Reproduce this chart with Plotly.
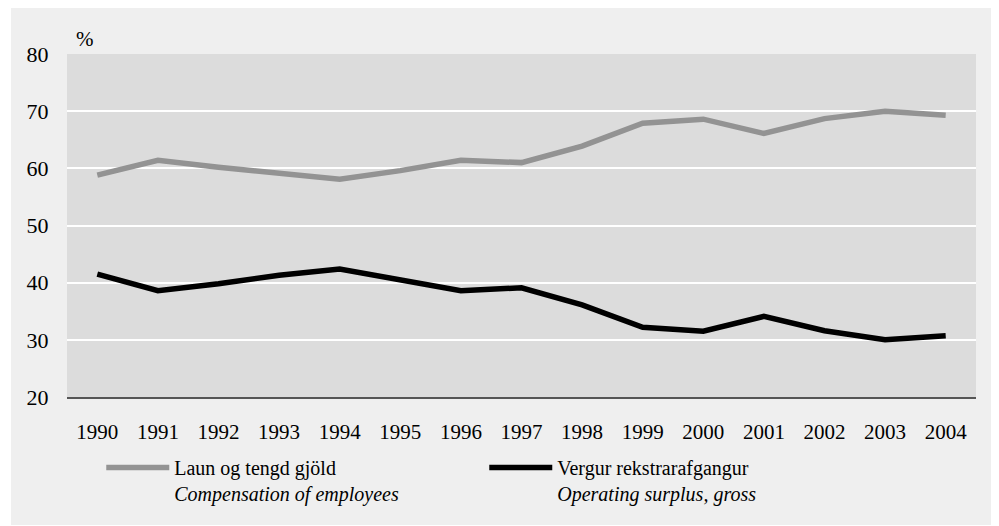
import plotly.graph_objects as go

# values
years = [str(y) for y in range(1990, 2005)]
laun = [58.8, 61.4, 60.2, 59.2, 58.1, 59.6, 61.4, 61.0, 63.9, 67.9, 68.6, 66.1, 68.7, 70.0, 69.3]
vergur = [41.5, 38.6, 39.8, 41.3, 42.4, 40.4, 38.6, 39.1, 36.1, 32.2, 31.5, 34.1, 31.6, 30.0, 30.7]
y_ticks = [20, 30, 40, 50, 60, 70, 80]

serif = "Liberation Serif, Times New Roman, serif"

fig = go.Figure()
fig.add_trace(go.Scatter(
    x = years, y = laun, mode = "lines",
    line = dict(color = "#939393", width = 5.5),
    name = "Laun og tengd gjöld<br><i>Compensation of employees</i>"))
fig.add_trace(go.Scatter(
    x = years, y = vergur, mode = "lines",
    line = dict(color = "#000000", width = 5.5),
    name = "Vergur rekstrarafgangur<br><i>Operating surplus, gross</i>"))

# outer light panel and the darker plot area
fig.add_shape(type = "rect", xref = "paper", yref = "paper",
              x0 = -56/909, x1 = 1 + 19/909, y0 = -128/343, y1 = 1 + 46/343,
              fillcolor = "#efefef", line_width = 0, layer = "below")
fig.add_shape(type = "rect", xref = "x domain", yref = "y domain",
              x0 = 0, x1 = 1, y0 = 0, y1 = 1,
              fillcolor = "#dcdcdc", line_width = 0, layer = "below")

fig.add_annotation(text = "%", xref = "paper", yref = "paper",
                   x = 7/909, y = 1 + 1/343, xanchor = "left", yanchor = "bottom",
                   showarrow = False, font = dict(family = serif, size = 21, color = "#000"))

fig.update_layout(
    width = 999, height = 526,
    margin = dict(l = 59, r = 31, t = 46, b = 137, autoexpand = False),
    paper_bgcolor = "white",
    plot_bgcolor = "rgba(0,0,0,0)",
    font = dict(family = serif, size = 20, color = "#000"),
    showlegend = True,
    legend = dict(orientation = "h", x = 0.0377, xanchor = "left",
                  yref = "container", y = 1 - 440/526, yanchor = "top",
                  valign = "top", itemwidth = 63, entrywidth = 305,
                  bgcolor = "rgba(0,0,0,0)", font = dict(family = serif, size = 20)),
    xaxis = dict(type = "category", range = [-0.5, 14.5], showgrid = False,
                 ticks = "outside", ticklen = 15,
                 tickcolor = "rgba(0,0,0,0)", showline = True, linecolor = "#555",
                 linewidth = 1.5, tickfont = dict(family = serif, size = 21)),
    yaxis = dict(range = [20, 80], tickvals = y_ticks, showgrid = True,
                 gridcolor = "white", gridwidth = 2, zeroline = False,
                 ticks = "outside", ticklen = 13, tickcolor = "rgba(0,0,0,0)",
                 tickfont = dict(family = serif, size = 22)),
)

fig.write_html("out.html")
